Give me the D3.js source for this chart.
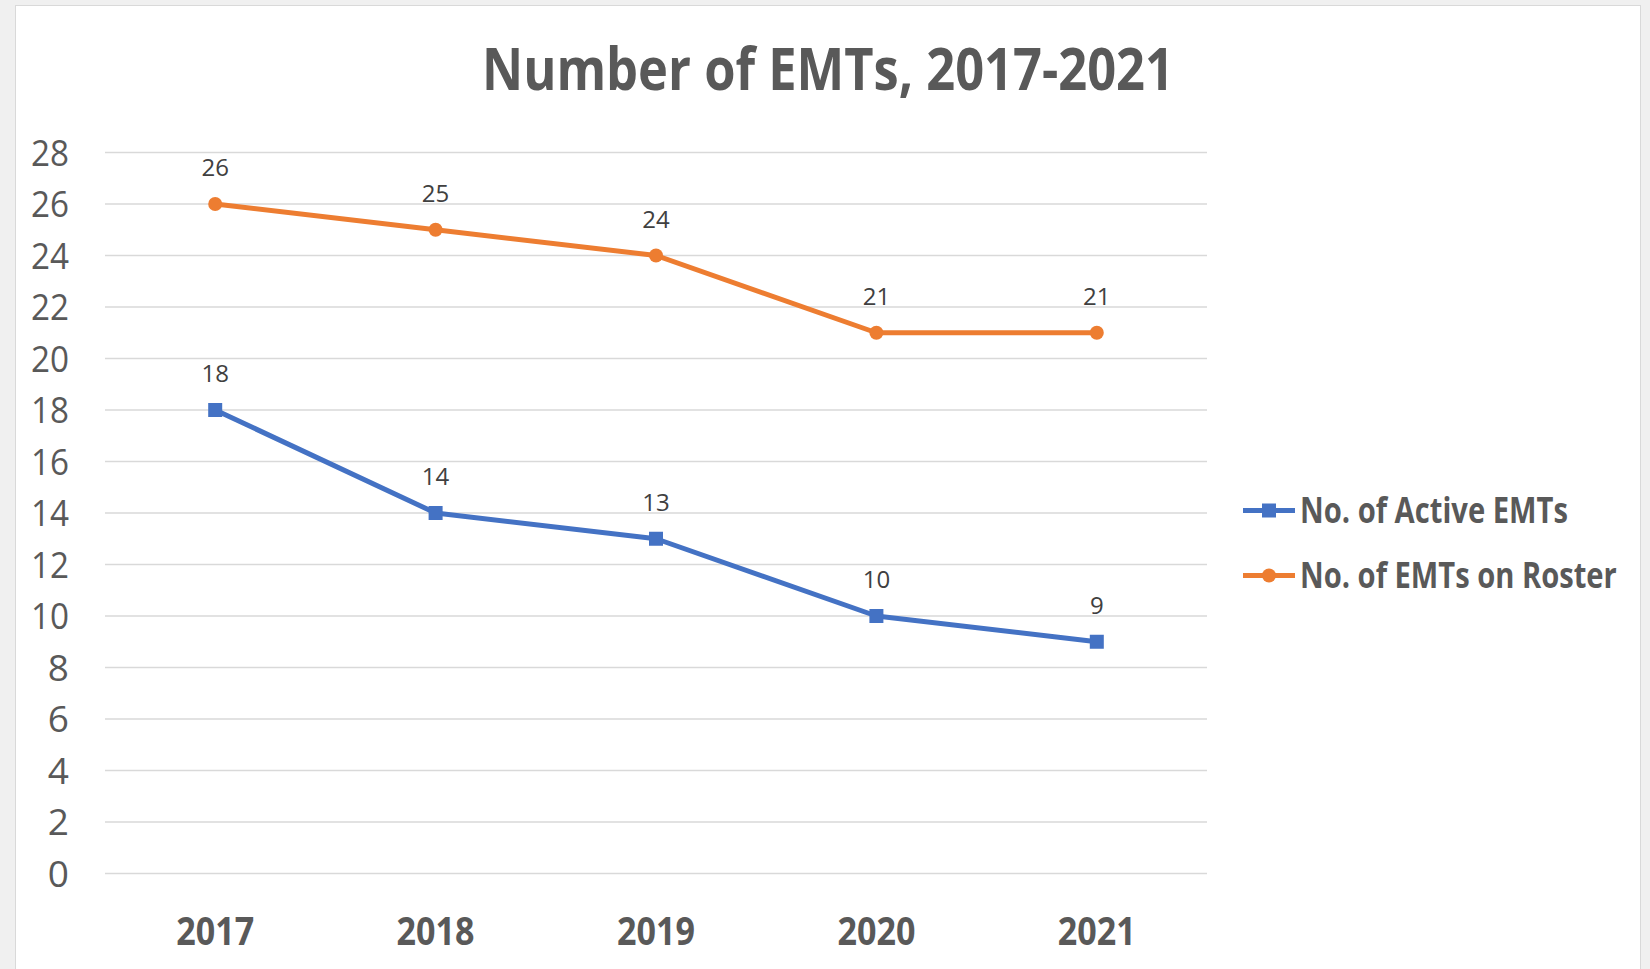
<!DOCTYPE html>
<html>
<head>
<meta charset="utf-8">
<script src="https://cdn.jsdelivr.net/npm/d3@7.9.0/dist/d3.min.js"></script>
<style>
  body { margin: 0; background: #f0f0f0; }
  svg { display: block; }
  text { font-family: "Open Sans", "Noto Sans", sans-serif; }
</style>
</head>
<body>
<svg id="chart" width="1650" height="969"></svg>
<script>
// data
const years = ['2017', '2018', '2019', '2020', '2021'];
const activeEMTs = [18, 14, 13, 10, 9];
const rosterEMTs = [26, 25, 24, 21, 21];
const yTicks = [0, 2, 4, 6, 8, 10, 12, 14, 16, 18, 20, 22, 24, 26, 28];

const series = [
  { name: 'No. of Active EMTs', values: activeEMTs, color: '#4472C4', marker: 'square' },
  { name: 'No. of EMTs on Roster', values: rosterEMTs, color: '#ED7D31', marker: 'circle' }
];

const svg = d3.select('#chart');

// squeeze a text horizontally so it takes the width of the narrower original font
function fitWidth(sel, target) {
  sel.each(function () {
    const t = d3.select(this);
    const w = this.getComputedTextLength();
    const k = Math.min(1, target / w);
    const ax = +t.attr('x');
    t.attr('transform', `translate(${ax},0) scale(${k},1) translate(${-ax},0)`);
  });
}

// white chart panel
svg.append('rect')
  .attr('x', 15.5).attr('y', 5.5)
  .attr('width', 1625).attr('height', 980)
  .attr('fill', '#fff')
  .attr('stroke', '#d9d9d9');

const x = d3.scaleBand().domain(years).range([105, 1207]);
const y = d3.scaleLinear().domain([0, 28]).range([873.5, 152.5]);

// gridlines
svg.append('g')
  .selectAll('line')
  .data(yTicks)
  .join('line')
  .attr('x1', 105).attr('x2', 1207)
  .attr('y1', d => y(d)).attr('y2', d => y(d))
  .attr('stroke', '#d9d9d9')
  .attr('stroke-width', 1.5);

// y tick labels
svg.append('g')
  .selectAll('text')
  .data(yTicks)
  .join('text')
  .attr('x', 69)
  .attr('y', d => y(d))
  .attr('dy', '0.36em')
  .attr('text-anchor', 'end')
  .attr('font-size', 37)
  .attr('fill', '#595959')
  .text(d => d)
  .call(fitWidth, 38);

// x labels
svg.append('g')
  .selectAll('text')
  .data(years)
  .join('text')
  .attr('x', d => x(d) + x.bandwidth() / 2)
  .attr('y', 945)
  .attr('text-anchor', 'middle')
  .attr('font-size', 39)
  .attr('font-weight', 'bold')
  .attr('fill', '#595959')
  .text(d => d)
  .call(fitWidth, 78);

// title
svg.append('text')
  .attr('x', 828)
  .attr('y', 90)
  .attr('text-anchor', 'middle')
  .attr('font-size', 59)
  .attr('font-weight', 'bold')
  .attr('fill', '#595959')
  .text('Number of EMTs, 2017-2021')
  .call(fitWidth, 692);

const cx = (d, i) => x(years[i]) + x.bandwidth() / 2;
const line = d3.line().x((d, i) => cx(d, i)).y(d => y(d));

function drawMarker(g, s, px, py) {
  if (s.marker === 'square') {
    g.append('rect')
      .attr('x', px - 7).attr('y', py - 7)
      .attr('width', 14).attr('height', 14)
      .attr('fill', s.color);
  } else {
    g.append('circle')
      .attr('cx', px).attr('cy', py).attr('r', 7)
      .attr('fill', s.color);
  }
}

series.forEach(s => {
  const g = svg.append('g');
  g.append('path')
    .attr('d', line(s.values))
    .attr('fill', 'none')
    .attr('stroke', s.color)
    .attr('stroke-width', 5)
    .attr('stroke-linejoin', 'round');
  s.values.forEach((v, i) => drawMarker(g, s, cx(v, i), y(v)));
  // data labels above each point
  g.selectAll('text.lbl')
    .data(s.values)
    .join('text')
    .attr('class', 'lbl')
    .attr('x', (d, i) => cx(d, i))
    .attr('y', d => y(d) - 28)
    .attr('text-anchor', 'middle')
    .attr('font-size', 24)
    .attr('fill', '#404040')
    .text(d => d);
});

// legend
const legendY = [510.5, 575.5];
const legendWidths = [268, 317];
series.forEach((s, i) => {
  const g = svg.append('g');
  g.append('line')
    .attr('x1', 1243).attr('x2', 1295)
    .attr('y1', legendY[i]).attr('y2', legendY[i])
    .attr('stroke', s.color)
    .attr('stroke-width', 5);
  drawMarker(g, s, 1269, legendY[i]);
  g.append('text')
    .attr('x', 1300)
    .attr('y', legendY[i])
    .attr('dy', '0.36em')
    .attr('font-size', 35)
    .attr('font-weight', 'bold')
    .attr('fill', '#595959')
    .text(s.name)
    .call(fitWidth, legendWidths[i]);
});
</script>
</body>
</html>
